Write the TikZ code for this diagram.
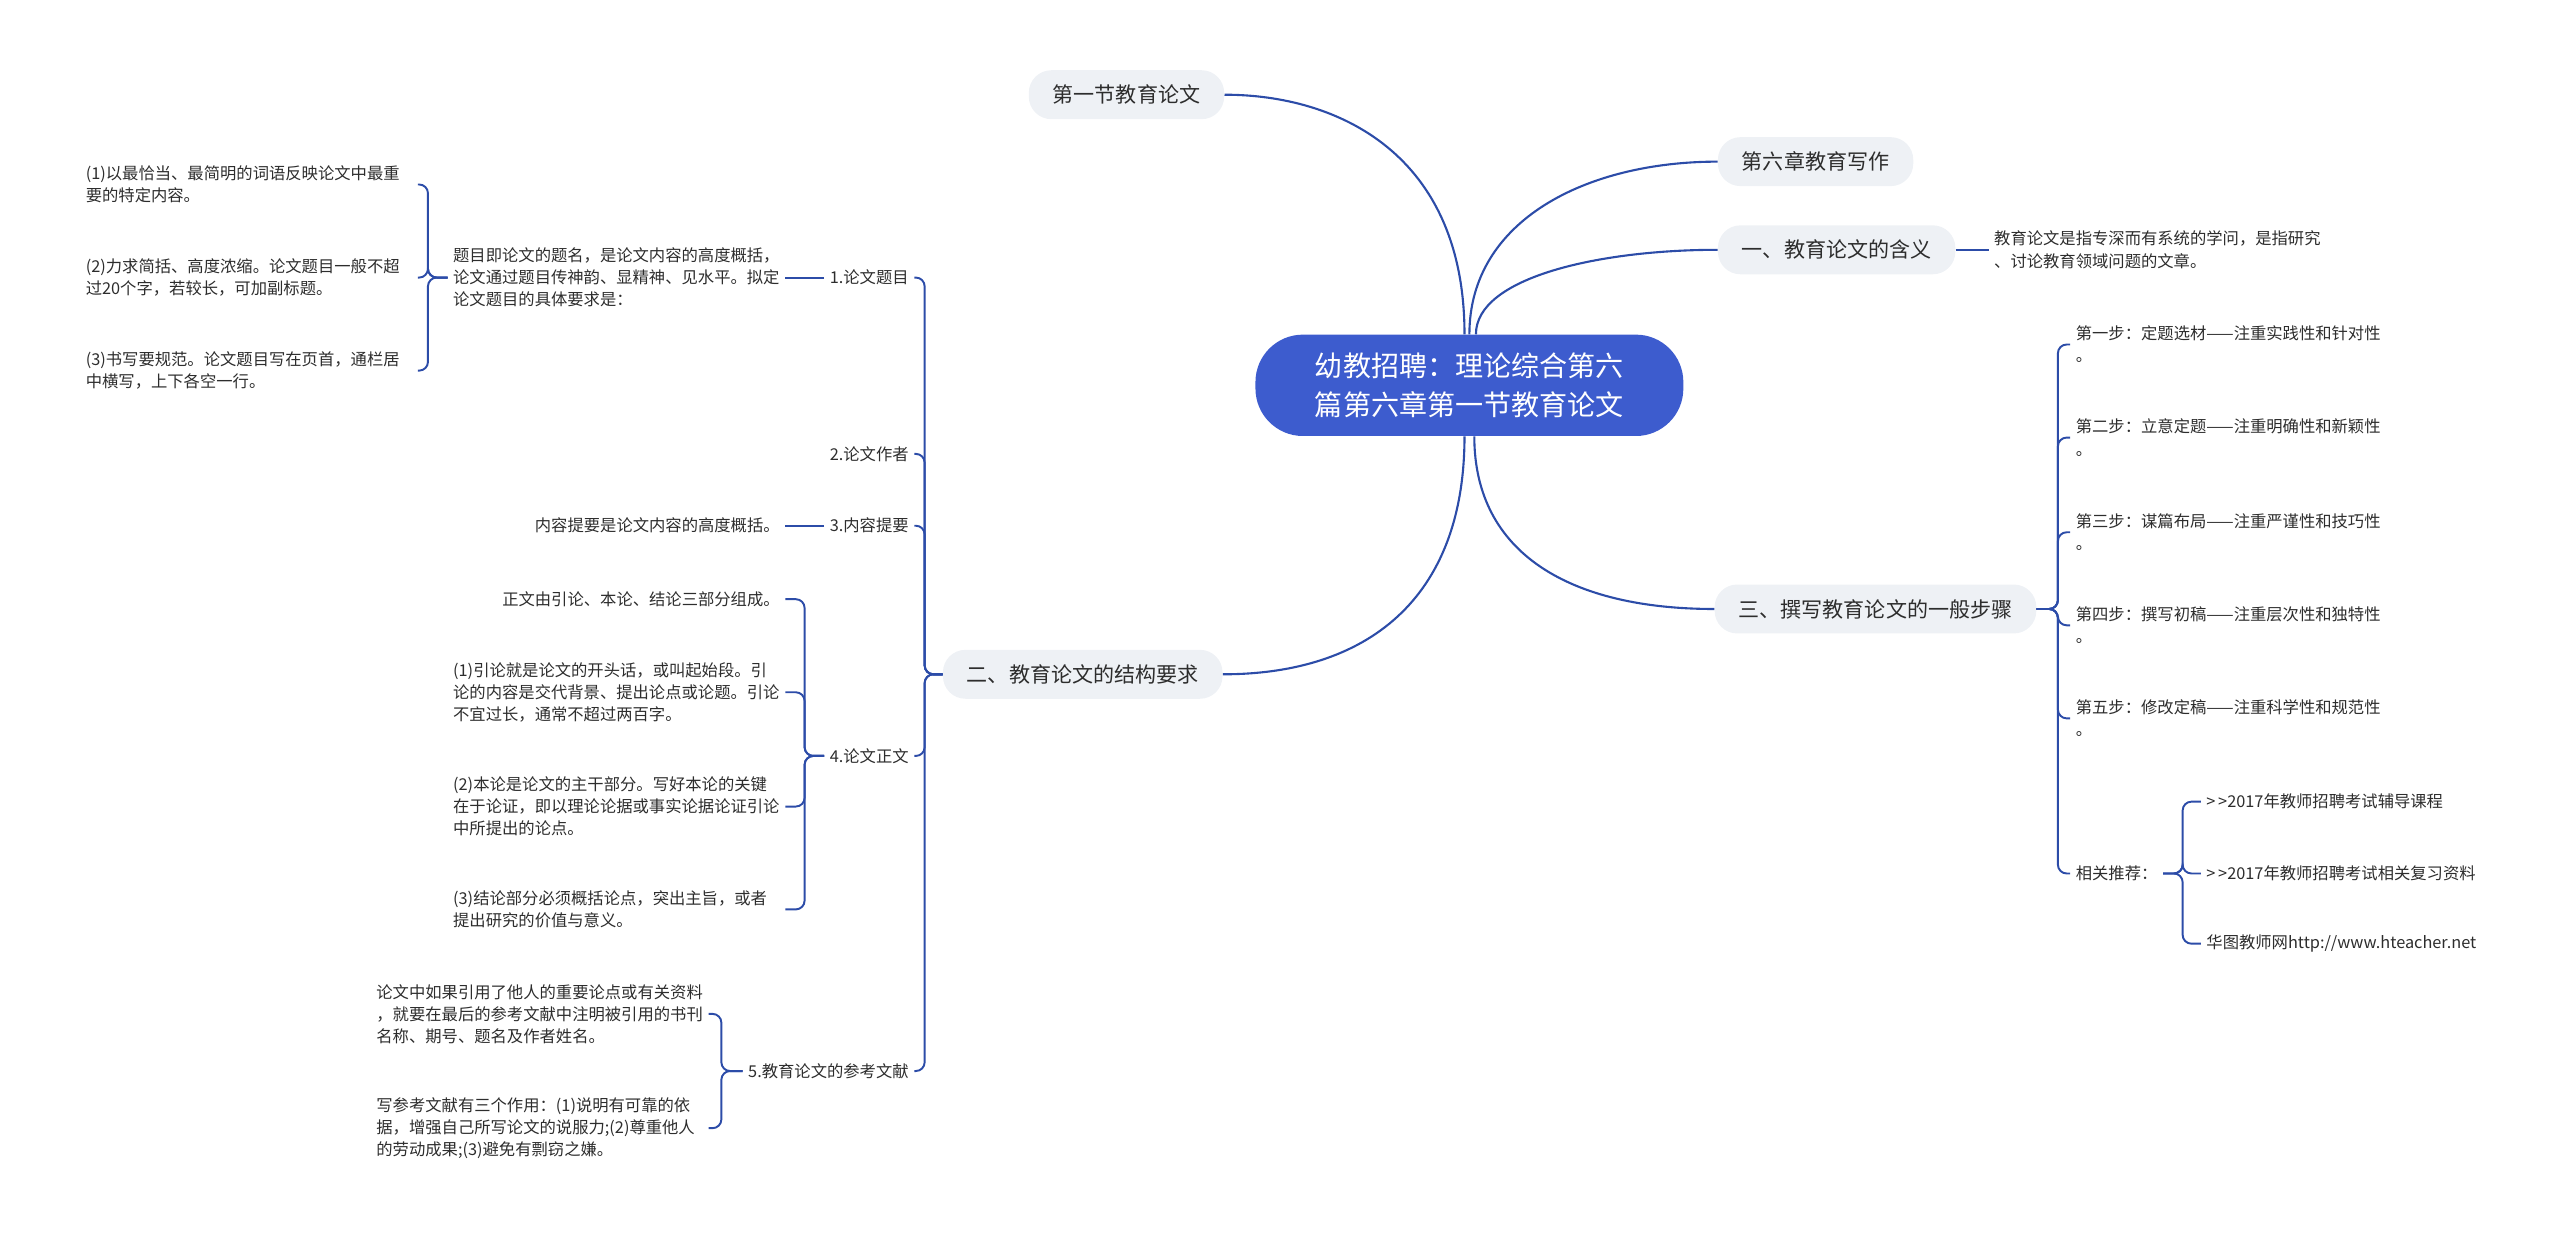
\documentclass[tikz,border=0pt]{standalone}
\usepackage{fontspec}
\setmainfont{Noto Sans CJK SC}
\usetikzlibrary{calc}
\definecolor{linkblue}{RGB}{44,76,168}
\definecolor{rootblue}{RGB}{61,92,206}
\definecolor{topicgray}{RGB}{238,241,245}
\definecolor{inkgray}{RGB}{45,45,45}

\begin{document}
\begin{tikzpicture}[
  x=0.0327cm, y=-0.0327cm,
  rootbox/.style={fill=rootblue, text=white, rounded corners=0.95cm, align=center,
    font=\fontsize{16}{22}\selectfont, minimum width=8.57cm, minimum height=2.03cm},
  topic/.style={fill=topicgray, text=inkgray, rounded corners=0.45cm,
    font=\fontsize{12}{14}\selectfont, minimum height=0.98cm, inner xsep=0.48cm},
  sub/.style={text=inkgray, font=\fontsize{9.3}{12.6}\selectfont, inner xsep=3pt, inner ysep=2pt},
  leaf/.style={sub, align=left},
  wideleaf/.style={leaf, text width=6.54cm},
  link/.style={draw=linkblue, line width=1.2pt},
  brace/.style={link, line width=1.1pt, rounded corners=5pt}
]
\useasboundingbox (0,0) rectangle (1568,759);

\node[rootbox] (root) at (900,236) {幼教招聘：理论综合第六\\篇第六章第一节教育论文};

\node[topic, anchor=east] (sec) at (750,58) {第一节教育论文};
\node[topic, anchor=west] (chap) at (1052,99) {第六章教育写作};
\node[topic, anchor=west] (t1) at (1052,153) {一、教育论文的含义};
\node[topic, anchor=east] (t2) at (749,413) {二、教育论文的结构要求};
\node[topic, anchor=west] (t3) at (1050,373) {三、撰写教育论文的一般步骤};

\draw[link] ($(root.north)+(-3,0)$) .. controls +(0,-110) and +(70,0) .. (sec.east);
\draw[link] (root.north) .. controls +(0,-70) and +(-80,0) .. (chap.west);
\draw[link] ($(root.north)+(4,0)$) .. controls +(0,-35) and +(-72,0) .. (t1.west);
\draw[link] ($(root.south)+(-3,0)$) .. controls +(0,100) and +(88,0) .. (t2.east);
\draw[link] ($(root.south)+(3,0)$) .. controls +(0,72) and +(-88,0) .. (t3.west);

% 一
\node[wideleaf, anchor=west] (t1a) at (1218,153) {教育论文是指专深而有系统的学问，是指研究\\、讨论教育领域问题的文章。};
\draw[link, line width=1.1pt] (t1.east) -- (t1a.west);

% 二
\node[sub, anchor=east] (p1) at (560,170) {1.论文题目};
\node[sub, anchor=east] (p2) at (560,278) {2.论文作者};
\node[sub, anchor=east] (p3) at (560,322) {3.内容提要};
\node[sub, anchor=east] (p4) at (560,463) {4.论文正文};
\node[sub, anchor=east] (p5) at (560,656) {5.教育论文的参考文献};
\foreach \p in {p1,p2,p3,p4,p5}
  \draw[brace] (t2.west) -- ++(-11,0) |- (\p.east);

\node[wideleaf, anchor=east] (p1a) at (481,170) {题目即论文的题名，是论文内容的高度概括，\\论文通过题目传神韵、显精神、见水平。拟定\\论文题目的具体要求是：};
\draw[link, line width=1.1pt] (p1.west) -- (p1a.east);
\node[wideleaf, anchor=east] (q1) at (256,113) {(1)以最恰当、最简明的词语反映论文中最重\\要的特定内容。};
\node[wideleaf, anchor=east] (q2) at (256,170) {(2)力求简括、高度浓缩。论文题目一般不超\\过20个字，若较长，可加副标题。};
\node[wideleaf, anchor=east] (q3) at (256,227) {(3)书写要规范。论文题目写在页首，通栏居\\中横写，上下各空一行。};
\foreach \q in {q1,q2,q3}
  \draw[brace] (p1a.west) -- ++(-12,0) |- (\q.east);

\node[sub, anchor=east] (p3a) at (481,322) {内容提要是论文内容的高度概括。};
\draw[link, line width=1.1pt] (p3.west) -- (p3a.east);

\node[sub, anchor=east] (r0) at (481,367) {正文由引论、本论、结论三部分组成。};
\node[wideleaf, anchor=east] (r1) at (481,424) {(1)引论就是论文的开头话，或叫起始段。引\\论的内容是交代背景、提出论点或论题。引论\\不宜过长，通常不超过两百字。};
\node[wideleaf, anchor=east] (r2) at (481,494) {(2)本论是论文的主干部分。写好本论的关键\\在于论证，即以理论论据或事实论据论证引论\\中所提出的论点。};
\node[wideleaf, anchor=east] (r3) at (481,557) {(3)结论部分必须概括论点，突出主旨，或者\\提出研究的价值与意义。};
\foreach \r in {r0,r1,r2,r3}
  \draw[brace] (p4.west) -- ++(-12,0) |- (\r.east);

\node[wideleaf, anchor=east] (s1) at (434,621) {论文中如果引用了他人的重要论点或有关资料\\，就要在最后的参考文献中注明被引用的书刊\\名称、期号、题名及作者姓名。};
\node[wideleaf, anchor=east] (s2) at (434,691) {写参考文献有三个作用：(1)说明有可靠的依\\据，增强自己所写论文的说服力;(2)尊重他人\\的劳动成果;(3)避免有剽窃之嫌。};
\foreach \s in {s1,s2}
  \draw[brace] (p5.west) -- ++(-13,0) |- (\s.east);

% 三
\node[leaf, anchor=west] (u1) at (1268,211) {第一步：定题选材——注重实践性和针对性\\。};
\node[leaf, anchor=west] (u2) at (1268,268) {第二步：立意定题——注重明确性和新颖性\\。};
\node[leaf, anchor=west] (u3) at (1268,326) {第三步：谋篇布局——注重严谨性和技巧性\\。};
\node[leaf, anchor=west] (u4) at (1268,383) {第四步：撰写初稿——注重层次性和独特性\\。};
\node[leaf, anchor=west] (u5) at (1268,440) {第五步：修改定稿——注重科学性和规范性\\。};
\node[sub, anchor=west] (u6) at (1268,535) {相关推荐：};
\foreach \u in {u1,u2,u3,u4,u5,u6}
  \draw[brace] (t3.east) -- ++(13,0) |- (\u.west);

\node[sub, anchor=west] (v1) at (1348,491) {>\,>2017年教师招聘考试辅导课程};
\node[sub, anchor=west] (v2) at (1348,535) {>\,>2017年教师招聘考试相关复习资料};
\node[sub, anchor=west] (v3) at (1348,578) {华图教师网http://www.hteacher.net};
\foreach \v in {v1,v2,v3}
  \draw[brace] (u6.east) -- ++(12,0) |- (\v.west);
\end{tikzpicture}
\end{document}
